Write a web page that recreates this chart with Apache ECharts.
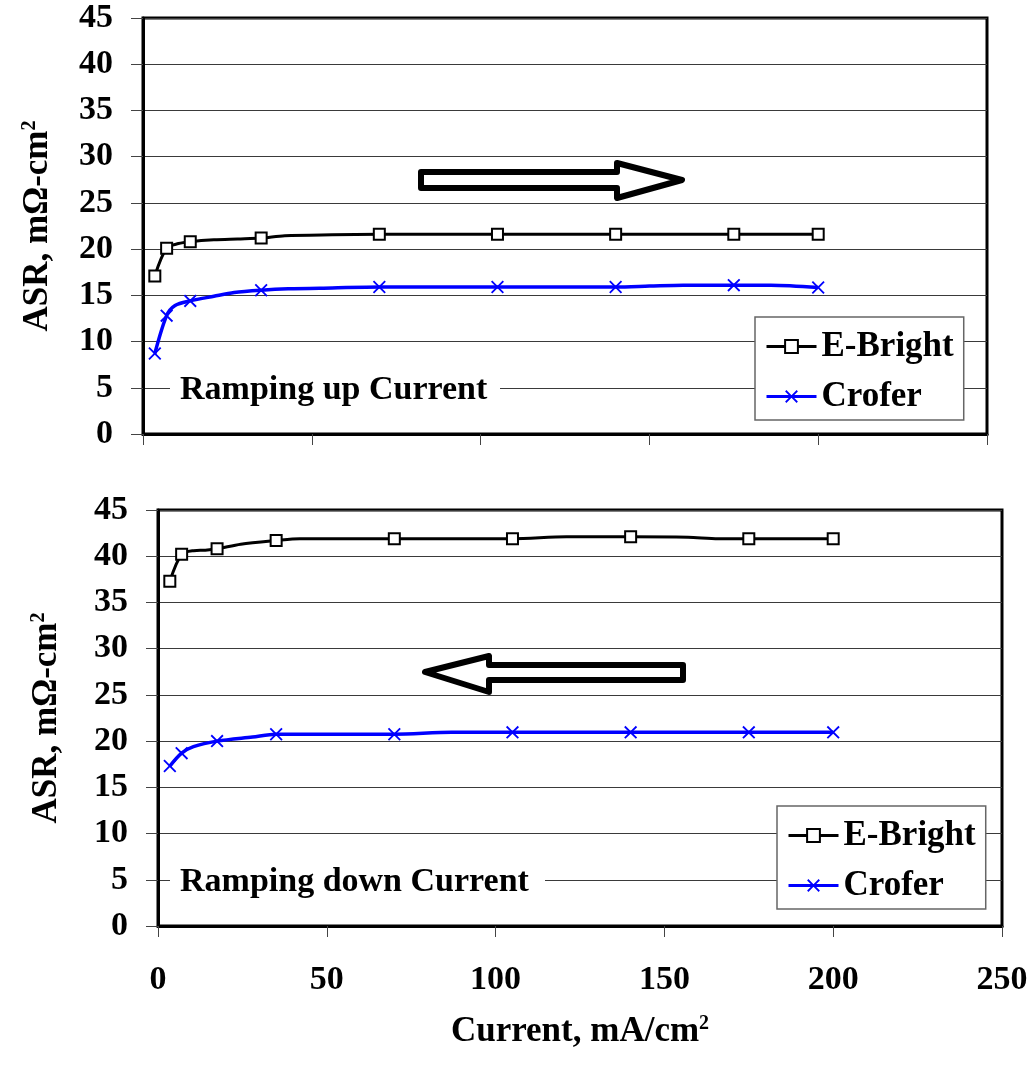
<!DOCTYPE html>
<html>
<head>
<meta charset="utf-8">
<script src="https://cdn.jsdelivr.net/npm/echarts@6/dist/echarts.min.js"></script>
<style>html,body{margin:0;padding:0;background:#fff}#c{width:1034px;height:1073px}</style>
</head>
<body>
<div id="c"></div>
<script>
// [current mA/cm2, ASR mOhm-cm2, marker shown (1) or not (0)]
var ebUp = [[3.5,17.1,1],[7,20.1,1],[10.5,20.6,0],[14,20.8,1],[21,21.0,0],[28,21.1,0],[35,21.2,1],[42,21.45,0],[56,21.55,0],[70,21.6,1],[105,21.6,1],[140,21.6,1],[175,21.6,1],[200,21.6,1]];
var crUp = [[3.5,8.7,1],[7,12.8,1],[9.5,13.9,0],[14,14.4,1],[21,14.9,0],[27,15.3,0],[35,15.55,1],[43,15.7,0],[56,15.8,0],[70,15.9,1],[105,15.9,1],[140,15.9,1],[150,16.0,0],[160,16.1,0],[175,16.1,1],[186,16.1,0],[200,15.85,1]];
var ebDown = [[3.5,37.3,1],[7,40.2,1],[10.5,40.6,0],[14,40.65,0],[17.5,40.8,1],[24.5,41.3,0],[35,41.7,1],[42,41.9,0],[70,41.9,1],[105,41.9,1],[121,42.1,0],[140,42.1,1],[157,42.05,0],[166,41.9,0],[175,41.9,1],[200,41.9,1]];
var crDown = [[3.5,17.3,1],[7,18.7,1],[10.5,19.4,0],[17.5,20.0,1],[28,20.45,0],[35,20.75,1],[70,20.75,1],[87,20.95,0],[105,20.95,1],[140,20.95,1],[175,20.95,1],[200,20.95,1]];
var seriesNames = ['E-Bright','Crofer'];
var panelLabels = ['Ramping up Current','Ramping down Current'];
var yAxisTitle = 'ASR, mΩ-cm{sup|2}';
var xAxisTitle = 'Current, mA/cm{sup|2}';

var FONT = '"Liberation Serif","Times New Roman",serif';
var XSYM = 'path://M0,1 L1,0 L5,4 L9,0 L10,1 L6,5 L10,9 L9,10 L5,6 L1,10 L0,9 L4,5 Z';

function toData(arr){
  return arr.map(function(p){
    var d = {value:[p[0],p[1]]};
    if(!p[2]) d.symbol = 'none';
    return d;
  });
}
function yAxis(idx, gap){
  return {
    gridIndex: idx, type:'value', min:0, max:45, interval:5,
    name: yAxisTitle, nameLocation:'middle', nameGap: gap, nameRotate: 90,
    nameTextStyle:{fontFamily:FONT, fontWeight:'bold', fontSize:35, color:'#000',
      rich:{sup:{fontFamily:FONT, fontWeight:'bold', fontSize:20, color:'#000', verticalAlign:'top', padding:[0,0,10,0]}}},
    axisLine:{show:true, lineStyle:{color:'#000', width:3}},
    axisTick:{show:true, inside:false, length:12, lineStyle:{color:'#444', width:1}},
    axisLabel:{fontFamily:FONT, fontWeight:'bold', fontSize:34, color:'#000', margin:30},
    splitLine:{show:true, lineStyle:{color:'#3a3a3a', width:1}}
  };
}
function xAxis(idx, showLabels){
  var a = {
    gridIndex: idx, type:'value', min:0, max:250, interval:50,
    axisLine:{show:true, onZero:false, lineStyle:{color:'#000', width:3}},
    axisTick:{show:true, inside:false, length:11, lineStyle:{color:'#444', width:1}},
    axisLabel:{show:showLabels, fontFamily:FONT, fontWeight:'bold', fontSize:34, color:'#000', margin:37},
    splitLine:{show:false}
  };
  if(showLabels){
    a.name = xAxisTitle; a.nameLocation='middle'; a.nameGap=88;
    a.nameTextStyle = {fontFamily:FONT, fontWeight:'bold', fontSize:35, color:'#000',
      rich:{sup:{fontFamily:FONT, fontWeight:'bold', fontSize:20, color:'#000', verticalAlign:'top', padding:[0,0,10,0]}}};
  }
  return a;
}
function ebSeries(idx, arr){
  return {name:seriesNames[0], type:'line', xAxisIndex:idx, yAxisIndex:idx, smooth:0.3,
    symbol:'rect', symbolSize:11, showAllSymbol:true,
    lineStyle:{color:'#000', width:3}, itemStyle:{color:'#fff', borderColor:'#000', borderWidth:2},
    data: toData(arr), z:3};
}
function crSeries(idx, arr){
  return {name:seriesNames[1], type:'line', xAxisIndex:idx, yAxisIndex:idx, smooth:0.3,
    symbol:XSYM, symbolSize:13, showAllSymbol:true,
    lineStyle:{color:'#0000ff', width:3.5}, itemStyle:{color:'#0000ff', borderWidth:0},
    data: toData(arr), z:3};
}
function legend(left, top){
  return {data:seriesNames, orient:'vertical', left:left, top:top,
    backgroundColor:'#fff', borderColor:'#666', borderWidth:1.5,
    padding:[12,10,6,10], itemGap:15, itemWidth:50, itemHeight:16,
    lineStyle:{width:3},
    textStyle:{fontFamily:FONT, fontWeight:'bold', fontSize:35, color:'#000', lineHeight:35}};
}
var tfont = 'bold 34px ' + FONT;
var option = {
  backgroundColor:'#fff',
  animation:false,
  grid:[
    {left:143, top:18, width:844, height:416, show:true, borderColor:'#000', borderWidth:3, backgroundColor:'transparent'},
    {left:158, top:510, width:844, height:416, show:true, borderColor:'#000', borderWidth:3, backgroundColor:'transparent'}
  ],
  xAxis:[xAxis(0,false), xAxis(1,true)],
  yAxis:[yAxis(0,88), yAxis(1,94)],
  legend:[legend(755,317), legend(777,806)],
  series:[ebSeries(0,ebUp), crSeries(0,crUp), ebSeries(1,ebDown), crSeries(1,crDown)],
  graphic:[
    {type:'rect', shape:{x:170,y:372,width:330,height:36}, style:{fill:'#fff'}, z:5},
    {type:'text', x:180, y:390, style:{text:panelLabels[0], font:tfont, fill:'#000', textVerticalAlign:'middle', verticalAlign:'middle'}, z:6},
    {type:'rect', shape:{x:170,y:864,width:375,height:36}, style:{fill:'#fff'}, z:5},
    {type:'text', x:180, y:882, style:{text:panelLabels[1], font:tfont, fill:'#000', textVerticalAlign:'middle', verticalAlign:'middle'}, z:6},
    {type:'polygon', shape:{points:[[421,172],[617,172],[617,163],[682,180],[617,198],[617,188],[421,188]]},
      style:{fill:'#fff', stroke:'#000', lineWidth:6, lineJoin:'round'}, z:5},
    {type:'polygon', shape:{points:[[425,672],[489,656],[489,665],[683,665],[683,680],[489,680],[489,692]]},
      style:{fill:'#fff', stroke:'#000', lineWidth:6, lineJoin:'round'}, z:5}
  ]
};
var chart = echarts.init(document.getElementById('c'), null, {renderer:'canvas'});
chart.setOption(option);
</script>
</body>
</html>
